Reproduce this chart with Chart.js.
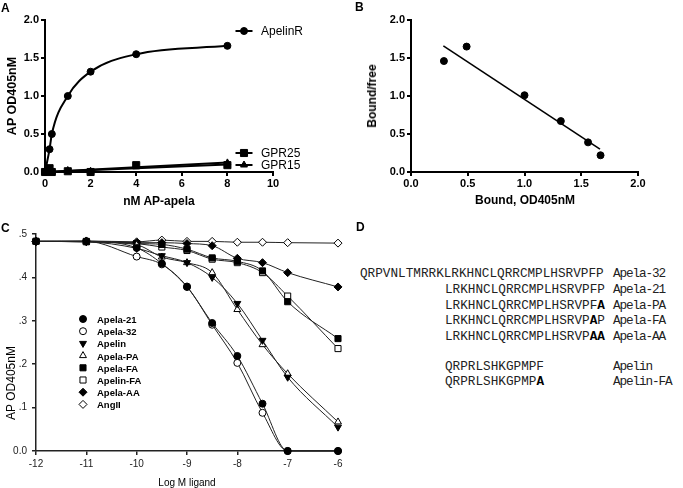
<!DOCTYPE html>
<html>
<head>
<meta charset="utf-8">
<script src="https://cdn.jsdelivr.net/npm/chart.js"></script>
<style>
  html, body { margin: 0; padding: 0; background: #fff; }
  #fig { position: relative; width: 683px; height: 488px; overflow: hidden; background: #fff;
         font-family: "Liberation Sans", Arial, sans-serif; color: #000; }
  canvas { position: absolute; }
  .t { position: absolute; white-space: pre; line-height: 1; }
  .seq { position: absolute; white-space: pre; font-family: "Liberation Mono", monospace;
         font-size: 12.7px; line-height: 16px; color: #222; }
  .seq b { font-weight: bold; color: #000; }
  .name { position: absolute; white-space: pre; font-family: "Liberation Mono", monospace;
          font-size: 12.7px; letter-spacing: -1.1px; line-height: 16px; color: #222; }
</style>
</head>
<body>
<div id="fig">
  <canvas id="chartA" width="325" height="190" style="left:0;top:0"></canvas>
  <canvas id="chartB" width="353" height="190" style="left:330px;top:0"></canvas>
  <canvas id="chartC" width="350" height="273" style="left:0;top:215px"></canvas>

  <div class="seq" style="left:360px;top:266px">QRPVNLTMRRKLRKHNCLQRRCMPLHSRVPFP</div>
  <div class="seq" style="left:445px;top:282px">LRKHNCLQRRCMPLHSRVPFP</div>
  <div class="seq" style="left:445px;top:298px">LRKHNCLQRRCMPLHSRVPF<b>A</b></div>
  <div class="seq" style="left:445px;top:313px">LRKHNCLQRRCMPLHSRVP<b>A</b>P</div>
  <div class="seq" style="left:445px;top:329px">LRKHNCLQRRCMPLHSRVP<b>AA</b></div>
  <div class="seq" style="left:445px;top:359px">QRPRLSHKGPMPF</div>
  <div class="seq" style="left:445px;top:374px">QRPRLSHKGPMP<b>A</b></div>
  <div class="name" style="left:613px;top:266px">Apela-32</div>
  <div class="name" style="left:613px;top:282px">Apela-21</div>
  <div class="name" style="left:613px;top:298px">Apela-PA</div>
  <div class="name" style="left:613px;top:313px">Apela-FA</div>
  <div class="name" style="left:613px;top:329px">Apela-AA</div>
  <div class="name" style="left:613px;top:359px">Apelin</div>
  <div class="name" style="left:613px;top:374px">Apelin-FA</div>
</div>
<script>
// ---- panel A: saturation binding ----
const aDose = [0, 0.2, 0.3, 1, 2, 4, 8];
const aApelinR = [0, 0.30, 0.50, 1.00, 1.32, 1.55, 1.66];
const aGpr25 = [0.0, 0.05, 0.0, 0.01, 0.0, 0.09, 0.09];
const aGpr15 = [0.0, 0.02, 0.0, 0.02, 0.01, 0.07, 0.12];
const aFitX = [0, 8];
const aGpr25Fit = [0.0, 0.10];
const aGpr15Fit = [0.0, 0.125];
const aXTicks = ['0', '2', '4', '6', '8', '10'];
const aYTicks = ['0.0', '0.5', '1.0', '1.5', '2.0'];

// ---- panel B: Scatchard ----
const bBound = [0.29, 0.49, 1.0, 1.32, 1.56, 1.67];
const bRatio = [1.46, 1.65, 1.01, 0.67, 0.39, 0.22];
const bFitX = [0.285, 1.665];
const bFitY = [1.66, 0.30];
const bXTicks = ['0.0', '0.5', '1.0', '1.5', '2.0'];
const bYTicks = ['0.0', '0.5', '1.0', '1.5', '2.0'];

// ---- panel C: competition ----
const cLogDose = [-12, -11, -10, -9.5, -9, -8.5, -8, -7.5, -7, -6];
const cApela21 = [0.483, 0.483, 0.468, 0.432, 0.378, 0.295, 0.219, 0.109, 0.0, 0.0];
const cApela32 = [0.483, 0.483, 0.448, 0.430, 0.379, 0.291, 0.203, 0.088, 0.0, 0.0];
const cApelin = [0.483, 0.482, 0.467, 0.450, 0.434, 0.400, 0.340, 0.255, 0.170, 0.055];
const cApelaPA = [0.483, 0.482, 0.475, 0.447, 0.434, 0.411, 0.326, 0.245, 0.178, 0.067];
const cApelaFA = [0.483, 0.482, 0.478, 0.476, 0.465, 0.445, 0.437, 0.415, 0.344, 0.259];
const cApelinFA = [0.483, 0.483, 0.478, 0.470, 0.462, 0.442, 0.434, 0.411, 0.357, 0.236];
const cApelaAA = [0.483, 0.483, 0.480, 0.480, 0.478, 0.473, 0.444, 0.434, 0.411, 0.378];
const cAngII = [0.483, 0.484, 0.482, 0.486, 0.483, 0.483, 0.481, 0.481, 0.480, 0.479];
const cNames = ['Apela-21', 'Apela-32', 'Apelin', 'Apela-PA', 'Apela-FA', 'Apelin-FA', 'Apela-AA', 'AngII'];
const cXTicks = ['-12', '-11', '-10', '-9', '-8', '-7', '-6'];
const cYTicks = ['0.0', '.1', '.2', '.3', '.4', '.5'];

const fig = document.getElementById('fig');

function xy(xs, ys) {
    return xs.map((x, i) => ({ x: x, y: ys[i] }));
}

function addText(txt, x, y, font, mode) {
    const d = document.createElement('div');
    d.className = 't';
    d.textContent = txt;
    d.style.font = font;
    d.style.left = x + 'px';
    d.style.top = y + 'px';
    if (mode === 'rot') d.style.transform = 'translate(-50%,-50%) rotate(-90deg)';
    else if (mode === 'center') d.style.transform = 'translate(-50%,-50%)';
    else d.style.transform = 'translateY(-50%)';
    fig.appendChild(d);
}

// draws legend symbols (and short lines) where the figure puts them
const markerKey = {
    id: 'markerKey',
    afterDraw(chart, args, opts) {
        const ctx = chart.ctx;
        (opts.items || []).forEach(item => {
            const ds = chart.data.datasets[item.dataset];
            ctx.save();
            if (item.half) {
                ctx.strokeStyle = ds.borderColor;
                ctx.lineWidth = ds.borderWidth;
                ctx.beginPath();
                ctx.moveTo(item.x - item.half, item.y);
                ctx.lineTo(item.x + item.half, item.y);
                ctx.stroke();
            }
            ctx.fillStyle = ds.pointBackgroundColor;
            ctx.strokeStyle = ds.pointBorderColor;
            ctx.lineWidth = ds.pointBorderWidth;
            Chart.helpers.drawPoint(ctx, {
                pointStyle: ds.pointStyle,
                rotation: ds.pointRotation || 0,
                radius: ds.pointRadius,
                borderWidth: ds.pointBorderWidth
            }, item.x, item.y);
            ctx.restore();
        });
    }
};

function axis(min, max, step, labels, size, font, color, lw, tick, pad) {
    return {
        type: 'linear',
        min: min,
        max: max,
        afterFit: size,
        grid: { drawOnChartArea: false, drawTicks: true, tickLength: tick, color: color, lineWidth: lw },
        border: { display: true, color: color, width: lw },
        ticks: {
            stepSize: step,
            autoSkip: false,
            maxRotation: 0,
            padding: pad,
            color: color,
            font: font,
            callback: (v, i) => labels[i]
        }
    };
}

const boldTick = { family: 'Liberation Sans', size: 11, weight: 'bold' };
const plainTick = { family: 'Liberation Sans', size: 10 };

// ---------- A ----------
new Chart(document.getElementById('chartA'), {
    type: 'scatter',
    data: {
        datasets: [
            {
                label: 'ApelinR', data: xy(aDose, aApelinR), showLine: true,
                cubicInterpolationMode: 'monotone', borderColor: '#000', borderWidth: 2,
                pointStyle: 'circle', pointRadius: 3.5, pointBackgroundColor: '#000',
                pointBorderColor: '#000', pointBorderWidth: 1, clip: false
            },
            {
                label: 'GPR25', data: xy(aDose, aGpr25), showLine: false, borderColor: '#000', borderWidth: 2,
                pointStyle: 'rect', pointRadius: 5, pointBackgroundColor: '#000',
                pointBorderColor: '#000', pointBorderWidth: 1, clip: false
            },
            {
                label: 'GPR15', data: xy(aDose, aGpr15), showLine: false, borderColor: '#000', borderWidth: 2,
                pointStyle: 'triangle', pointRadius: 4, pointBackgroundColor: '#000',
                pointBorderColor: '#000', pointBorderWidth: 1, clip: false
            },
            {
                label: 'GPR25 fit', data: xy(aFitX, aGpr25Fit), showLine: true, borderColor: '#000',
                borderWidth: 2, pointRadius: 0, clip: false
            },
            {
                label: 'GPR15 fit', data: xy(aFitX, aGpr15Fit), showLine: true, borderColor: '#000',
                borderWidth: 2, pointRadius: 0, clip: false
            }
        ]
    },
    plugins: [markerKey],
    options: {
        responsive: false,
        animation: false,
        layout: { padding: { left: 0, right: 52, top: 20, bottom: 0 } },
        plugins: {
            legend: { display: false },
            tooltip: { enabled: false },
            markerKey: {
                items: [
                    { dataset: 0, x: 244, y: 31, half: 8.5 },
                    { dataset: 1, x: 244, y: 153, half: 8.5 },
                    { dataset: 2, x: 244, y: 165, half: 8.5 }
                ]
            }
        },
        scales: {
            x: axis(0, 10, 2, aXTicks, s => { s.height = 18; }, boldTick, '#000', 2, 4, 1),
            y: axis(0, 2, 0.5, aYTicks, s => { s.width = 45; }, boldTick, '#000', 2, 4, 2)
        }
    }
});

// ---------- B ----------
new Chart(document.getElementById('chartB'), {
    type: 'scatter',
    data: {
        datasets: [
            {
                label: 'Bound/free', data: xy(bBound, bRatio), showLine: false,
                pointStyle: 'circle', pointRadius: 3.5, pointBackgroundColor: '#000',
                pointBorderColor: '#000', pointBorderWidth: 1, clip: false
            },
            {
                label: 'fit', data: xy(bFitX, bFitY), showLine: true, borderColor: '#000',
                borderWidth: 1.6, pointRadius: 0, clip: false
            }
        ]
    },
    options: {
        responsive: false,
        animation: false,
        layout: { padding: { left: 0, right: 45, top: 20, bottom: 0 } },
        plugins: { legend: { display: false }, tooltip: { enabled: false } },
        scales: {
            x: axis(0, 2, 0.5, bXTicks, s => { s.height = 18; }, boldTick, '#000', 2, 4, 1),
            y: axis(0, 2, 0.5, bYTicks, s => { s.width = 81; }, boldTick, '#000', 2, 4, 2)
        }
    }
});

// ---------- C ----------
const cSeries = [cApela21, cApela32, cApelin, cApelaPA, cApelaFA, cApelinFA, cApelaAA, cAngII];
const cStyle = [
    { pointStyle: 'circle', pointRadius: 3.5, fill: '#000' },
    { pointStyle: 'circle', pointRadius: 3.5, fill: '#fff' },
    { pointStyle: 'triangle', pointRadius: 4, fill: '#000', rot: 180 },
    { pointStyle: 'triangle', pointRadius: 4, fill: '#fff' },
    { pointStyle: 'rect', pointRadius: 4.3, fill: '#000' },
    { pointStyle: 'rect', pointRadius: 4.3, fill: '#fff' },
    { pointStyle: 'rectRot', pointRadius: 4, fill: '#000' },
    { pointStyle: 'rectRot', pointRadius: 4, fill: '#fff' }
];

new Chart(document.getElementById('chartC'), {
    type: 'scatter',
    data: {
        datasets: cSeries.map((vals, i) => ({
            label: cNames[i],
            data: xy(cLogDose, vals),
            showLine: true,
            cubicInterpolationMode: 'monotone',
            borderColor: '#222',
            borderWidth: 1,
            pointStyle: cStyle[i].pointStyle,
            pointRotation: cStyle[i].rot || 0,
            pointRadius: cStyle[i].pointRadius,
            pointBackgroundColor: cStyle[i].fill,
            pointBorderColor: '#000',
            pointBorderWidth: 1,
            clip: false
        }))
    },
    plugins: [markerKey],
    options: {
        responsive: false,
        animation: false,
        layout: { padding: { left: 0, right: 12, top: 19, bottom: 0 } },
        plugins: {
            legend: { display: false },
            tooltip: { enabled: false },
            markerKey: {
                items: cNames.map((n, i) => ({ dataset: i, x: 83, y: 104 + i * 12.2 }))
            }
        },
        scales: {
            x: axis(-12, -6, 1, cXTicks, s => { s.height = 37; }, plainTick, '#222', 1.5, 4, 3),
            y: axis(0, 0.5, 0.1, cYTicks, s => { s.width = 36; }, plainTick, '#222', 1.5, 4, 5)
        }
    }
});

// ---------- text ----------
const letterFont = 'bold 12px "Liberation Sans"';
addText('A', 1, 8, letterFont);
addText('B', 355, 7, letterFont);
addText('C', 1, 228, letterFont);
addText('D', 356, 227, letterFont);

addText('AP OD405nM', 12, 96, 'bold 12.5px "Liberation Sans"', 'rot');
addText('nM AP-apela', 159, 201, 'bold 12px "Liberation Sans"', 'center');
addText('ApelinR', 261, 31, '12px "Liberation Sans"');
addText('GPR25', 261, 153, '12px "Liberation Sans"');
addText('GPR15', 261, 165, '12px "Liberation Sans"');

addText('Bound/free', 372, 96, 'bold 12px "Liberation Sans"', 'rot');
addText('Bound, OD405nM', 525, 200, 'bold 12px "Liberation Sans"', 'center');

addText('AP OD405nM', 11, 383, '12px "Liberation Sans"', 'rot');
addText('Log M ligand', 187, 482, '10px "Liberation Sans"', 'center');
cNames.forEach((n, i) => {
    addText(n, 97, 319 + i * 12.2, 'bold 9.5px "Liberation Sans"');
});
</script>
</body>
</html>
